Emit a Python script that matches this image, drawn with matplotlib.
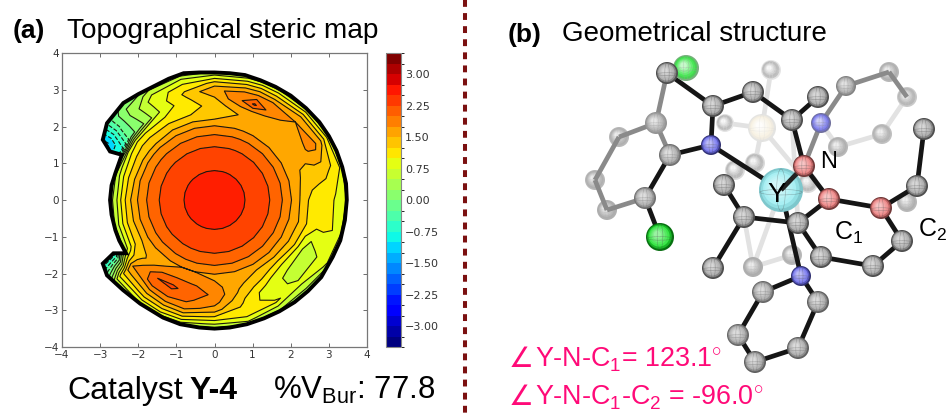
import matplotlib
matplotlib.use('Agg')
import matplotlib.pyplot as plt
import numpy as np
from matplotlib.patches import Circle, Ellipse, Polygon
from matplotlib.cm import ScalarMappable
from matplotlib.colors import BoundaryNorm

plt.rcParams['font.family'] = ['Liberation Sans', 'DejaVu Sans']
plt.rcParams['mathtext.fontset'] = 'custom'
plt.rcParams['mathtext.rm'] = 'Liberation Sans'
plt.rcParams['mathtext.it'] = 'Liberation Sans'
plt.rcParams['mathtext.bf'] = 'Liberation Sans:bold'

# steric map, read along rays: radius (Angstrom) and angle (degrees)
radii = [0, 0.8, 1.45, 1.78, 2.02, 2.2, 2.4, 2.6, 2.8, 3.0, 3.2, 3.4, 3.6]
angles = [0, 15, 30, 45, 60, 68, 75, 90, 105, 120, 135, 142, 150, 165, 180, 195, 210,
          220, 235, 245, 255, 270, 285, 300, 315, 330, 345]
inner = [2.7, 2.5, 2.25, 2.0, 1.75]  # same all the way round up to r=2.02
outer = [
    [1.55, 1.30, 1.15, 1.10, 1.10, 0.95, 1.00, 0.20],
    [1.60, 1.45, 1.40, 1.35, 1.30, 1.20, 1.00, 0.20],
    [1.70, 1.60, 1.60, 1.80, 1.85, 1.55, 1.00, 0.30],
    [1.65, 1.60, 1.55, 1.60, 1.75, 1.50, 0.95, 0.20],
    [1.60, 1.60, 1.70, 1.95, 1.90, 1.40, 0.90, 0.20],
    [1.60, 1.60, 1.75, 2.30, 1.90, 1.45, 0.90, 0.20],
    [1.55, 1.50, 1.70, 2.00, 1.85, 1.40, 0.85, 0.20],
    [1.50, 1.30, 1.35, 1.50, 1.70, 1.30, 0.75, 0.20],
    [1.50, 1.25, 1.15, 1.20, 1.30, 1.10, 0.75, 0.20],
    [1.50, 1.25, 1.00, 0.80, 0.85, 0.90, 0.60, 0.20],
    [1.45, 1.25, 0.95, 0.10, 0.15, 0.20, 0.20, 0.00],
    [1.45, 1.25, 0.95, -0.10, -0.20, -0.30, -0.30, -0.30],
    [1.45, 1.20, 0.85, -0.80, -1.00, -1.20, -1.20, -1.20],
    [1.45, 1.15, 0.70, 0.20, -1.50, -2.00, -2.00, -2.00],
    [1.50, 1.15, 0.65, 0.25, -1.50, -2.00, -2.00, -2.00],
    [1.50, 1.20, 0.75, 0.30, -1.50, -2.00, -2.00, -2.00],
    [1.50, 1.25, 0.85, 0.30, -0.70, -0.90, -1.00, -1.00],
    [1.60, 1.45, 1.60, 1.75, 1.45, 1.10, 0.60, 0.20],
    [1.75, 2.00, 2.25, 2.10, 1.70, 1.30, 0.80, 0.20],
    [1.80, 2.10, 2.30, 2.15, 1.85, 1.40, 0.90, 0.20],
    [1.80, 2.05, 2.15, 2.05, 1.90, 1.45, 0.90, 0.20],
    [1.75, 1.85, 1.95, 1.85, 1.60, 1.20, 0.70, 0.20],
    [1.65, 1.55, 1.45, 1.30, 1.20, 1.15, 0.80, 0.20],
    [1.50, 1.35, 1.10, 0.85, 0.85, 1.05, 0.60, 0.20],
    [1.50, 1.15, 0.80, 0.70, 0.70, 0.80, 0.50, 0.20],
    [1.55, 1.30, 0.85, 0.55, 0.70, 0.80, 0.80, 0.20],
    [1.60, 1.35, 1.15, 1.05, 1.05, 1.00, 0.90, 0.20],
]
outline_x = [0, 0.4, 0.8, 1.2, 1.6, 2.0, 2.4, 2.75, 3.0, 3.2, 3.35, 3.45, 3.47, 3.42, 3.3, 3.1, 2.8,
             2.45, 2.1, 1.7, 1.3, 0.85, 0.4, 0, -0.4, -0.9, -1.35, -1.95, -2.4, -2.82, -2.93, -2.65,
             -2.32, -2.5, -2.6, -2.7, -2.74, -2.7, -2.6, -2.43, -2.74, -2.93, -2.82, -2.39, -2.0,
             -1.6, -1.2, -0.81, -0.4]
outline_y = [3.47, 3.45, 3.4, 3.26, 3.08, 2.84, 2.5, 2.12, 1.74, 1.34, 0.9, 0.45, 0, -0.55, -1.1, -1.55,
             -2.1, -2.48, -2.78, -3.03, -3.22, -3.38, -3.47, -3.5, -3.47, -3.38, -3.2, -2.82, -2.45,
             -2.05, -1.73, -1.45, -1.45, -1.1, -0.82, -0.4, 0, 0.4, 0.73, 1.23, 1.32, 1.64, 2.09,
             2.64, 2.88, 3.09, 3.3, 3.45, 3.47]
levels = np.arange(-3.5, 3.51, 0.25)
cbar_ticks = [-3, -2.25, -1.5, -0.75, 0, 0.75, 1.5, 2.25, 3]
axis_ticks = [-4, -3, -2, -1, 0, 1, 2, 3, 4]

# molecule atoms, positions in picture pixels
atom_names = ['h1', 'm1', 'h2', 'h3', 'h4', 'h5', 'h6', 'h7', 'h8',
              'cl1', 'c1', 'c2', 'c3', 'c4', 'c5', 'c6', 'c7', 'n1', 'c8', 'c9', 'c10', 'c11',
              'n2', 'p1', 'p2', 'p3', 'p4', 'p5',
              'r1', 'r2', 'r3', 'y', 'e1', 'e2', 'i1', 'i2', 'i3', 'a1', 'a2', 'a3', 'a4', 'cl2',
              'n3', 'q1', 'q2', 'q3', 'q4', 'q5']
atom_x = [771, 762, 725, 755, 735, 808, 907, 753, 792,
          686, 667, 656, 619, 595, 607, 645, 670, 711, 713, 753, 792, 818,
          821, 846, 889, 907, 882, 838,
          804, 829, 881, 781, 924, 917, 724, 744, 713, 798, 821, 873, 902, 660,
          801, 818, 763, 738, 755, 798]
atom_y = [70, 128, 123, 163, 170, 183, 202, 267, 255,
          68, 73, 123, 137, 180, 210, 198, 155, 145, 106, 92, 120, 97,
          123, 86, 72, 97, 134, 147,
          166, 199, 208, 190, 129, 186, 185, 217, 268, 223, 257, 266, 241, 237,
          276, 302, 292, 335, 362, 348]
atom_r = [10, 14, 9, 10, 10, 10, 10, 10, 10,
          13, 11, 11, 10, 10, 10, 11, 11, 10, 11, 11, 11, 11,
          10, 10, 10, 10, 10, 10,
          11, 11, 11, 22, 11, 11, 11, 11, 11, 11, 11, 11, 11, 14,
          10, 11, 11, 11, 11, 11]
atom_kind = ['c', 'w', 'c', 'c', 'c', 'c', 'c', 'c', 'c',
             'g', 'c', 'c', 'c', 'c', 'c', 'c', 'c', 'n', 'c', 'c', 'c', 'c',
             'n', 'c', 'c', 'c', 'c', 'c',
             'o', 'o', 'o', 'y', 'c', 'c', 'c', 'c', 'c', 'c', 'c', 'c', 'c', 'g',
             'n', 'c', 'c', 'c', 'c', 'c']
atom_fade = [.85, .8, .85, .8, .8, .8, .6, .55, .6,
             .45, 0, .4, .6, .6, .55, .2, .2, 0, 0, 0, 0, 0,
             .3, .3, .6, .7, .65, .6,
             0, 0, 0, 0, 0, 0, 0, 0, 0, 0, 0, 0, 0, 0,
             0, .1, .15, .15, .1, .1]
pale_bonds = ['h1-m1', 'm1-h2', 'm1-h3', 'h3-h4', 'm1-h5', 'i2-h7', 'h7-h8', 'y-h7', 'p5-p4', 'p4-p3',
              'n2-p5', 'e2-h6', 'a1-c10']
grey_bonds = ['c1-c2', 'c2-c3', 'c3-c4', 'c4-c5', 'c5-c6', 'c2-c7', 'p3-p2', 'p2-p1', 'n2-p1', 'n2-r1']
dark_bonds = ['c6-c7', 'c6-cl2', 'c7-n1', 'n1-c8', 'n1-y', 'c8-c1', 'c8-c9', 'c9-c10', 'c10-c11', 'c10-r1',
              'r1-r2', 'r2-r3', 'r3-e2', 'e1-e2', 'r3-a4', 'a4-a3', 'a3-a2', 'a2-a1', 'a1-r2',
              'a1-i2', 'i2-i1', 'i2-i3', 'y-n3', 'n3-q1', 'n3-q2', 'q2-q3', 'q3-q4', 'q4-q5', 'q5-q1']
front_bonds = ['r1-y']
kind_rgb = {'c': (0.62, 0.62, 0.62), 'w': (0.96, 0.93, 0.85), 'n': (0.38, 0.38, 0.92),
            'o': (0.92, 0.45, 0.45), 'y': (0.58, 0.92, 0.94), 'g': (0.05, 0.88, 0.12)}


def blend(rgb, other, t):
    return tuple((1 - t) * a + t * b for a, b in zip(rgb, other))


def draw_atom(ax, x, y, r, base, fade, z, edge_dark=0.5):
    edge = blend(tuple(c * edge_dark for c in base), (1, 1, 1), fade)
    light = blend(blend(base, (1, 1, 1), 0.6), (1, 1, 1), fade)
    for t in np.linspace(1, 0.25, 7):
        col = blend(edge, blend(base, light, (1 - t) * 1.3), min(1, (1 - t) * 5))
        off = (1 - t) * r * 0.25
        ax.add_patch(Circle((x - off, y - off), r * t, fc=col, ec='none', zorder=z))
    line = blend((0.3, 0.3, 0.3), (1, 1, 1), fade)
    ax.add_patch(Ellipse((x, y + r * 0.1), 2 * r * 0.96, r * 0.25, fc='none', ec=line, lw=0.4, alpha=0.4, zorder=z))
    ax.add_patch(Ellipse((x, y), r * 0.4, 2 * r * 0.96, fc='none', ec=line, lw=0.4, alpha=0.4, zorder=z))


fig = plt.figure(figsize=(9.52, 4.17), dpi=100)
W, H = 952.0, 417.0

# panel a
ax = fig.add_axes([62 / W, 1 - 347 / H, 305 / W, 294 / H])
inner_rows = np.tile(np.array(inner), (len(angles), 1))
Z = np.hstack([inner_rows, np.array(outer)])
Z = np.vstack([Z, Z[0]])
th = np.deg2rad(np.array(angles + [360]))
R, T = np.meshgrid(radii, th)
X = R * np.cos(T)
Y = R * np.sin(T)
shape = Polygon(np.column_stack([outline_x, outline_y]), closed=True, fc='none', ec='black', lw=2.8, zorder=5)
ax.add_patch(shape)
cf = ax.contourf(X, Y, Z, levels=levels, cmap='jet', vmin=-3.5, vmax=3.5)
cl = ax.contour(X, Y, Z, levels=levels, colors='#1a1a10', linewidths=0.8)
cf.set_clip_path(shape)
cl.set_clip_path(shape)
ax.set_xlim(-4, 4)
ax.set_ylim(-4, 4)
ax.set_xticks(axis_ticks)
ax.set_yticks(axis_ticks)
ax.tick_params(direction='in', top=True, right=True, length=3, width=0.6, color='#555555',
               labelsize=7.5, labelcolor='#333333', pad=2)
for lab in ax.get_xticklabels() + ax.get_yticklabels():
    lab.set_family('DejaVu Sans')
for s in ax.spines.values():
    s.set_color('#777777')
    s.set_linewidth(0.9)

cax = fig.add_axes([386 / W, 1 - 347 / H, 15 / W, 294 / H])
sm = ScalarMappable(norm=BoundaryNorm(levels, 256), cmap='jet')
cb = fig.colorbar(sm, cax=cax, ticks=cbar_ticks, spacing='proportional', drawedges=False)
cb.ax.set_yticklabels(['%.2f' % t if t >= 0 else '\u2212%.2f' % -t for t in cbar_ticks], family='DejaVu Sans')
cb.ax.tick_params(length=0, labelsize=8, labelcolor='#333333', pad=3)
cb.outline.set_edgecolor('#888888')

# overlay in pixels for labels and the molecule
ov = fig.add_axes([0, 0, 1, 1], facecolor='none')
ov.set_xlim(0, W)
ov.set_ylim(H, 0)
ov.axis('off')

ov.text(13, 31, '(a)', fontsize=19, fontweight='bold', va='center')
ov.text(67, 31, 'Topographical steric map', fontsize=20.2, va='center')
ov.text(508, 35, '(b)', fontsize=19, fontweight='bold', va='center')
ov.text(562, 34, 'Geometrical structure', fontsize=20, va='center')
ov.text(67, 399, 'Catalyst', fontsize=23, va='baseline')
ov.text(189, 399, 'Y-4', fontsize=23, fontweight='bold', va='baseline')
ov.text(273, 399, r'%V$_{\mathrm{Bur}}$: 77.8', fontsize=22.4, va='baseline')

ov.plot([464.5, 464.5], [0, H], color='#7b1010', lw=2.9, linestyle=(0, (1.7, 1.55)), dash_capstyle='butt')

pink = '#ff0a78'
ov.text(509, 367, '\u2220', fontsize=20, color=pink, family='DejaVu Sans', va='baseline')
ov.text(535, 367, r'Y-N-C$_{1}$= 123.1$^{\circ}$', fontsize=19.4, color=pink, va='baseline')
ov.text(509, 405, '\u2220', fontsize=20, color=pink, family='DejaVu Sans', va='baseline')
ov.text(535, 405, r'Y-N-C$_{1}$-C$_{2}$ = -96.0$^{\circ}$', fontsize=19.4, color=pink, va='baseline')

# molecule: pale parts first so the dark frame sits on top
pos = {n: (x, y) for n, x, y in zip(atom_names, atom_x, atom_y)}
for group, shade, z in [(pale_bonds, '#e2e2e2', 2), (grey_bonds, '#8a8a8a', 6), (dark_bonds, '#151515', 8),
                        (front_bonds, '#222222', 9.5)]:
    for pair in group:
        a, b = pair.split('-')
        ov.plot([pos[a][0], pos[b][0]], [pos[a][1], pos[b][1]], color=shade, lw=3.4,
                solid_capstyle='butt', zorder=z)
for n, x, y, r, k, f in zip(atom_names, atom_x, atom_y, atom_r, atom_kind, atom_fade):
    z = 4 if f >= 0.5 else (9 if n == 'y' else 10)
    draw_atom(ov, x, y, r, kind_rgb[k], f, z, edge_dark=0.85 if n == 'y' else 0.5)

ov.text(777, 195, 'Y', fontsize=20, va='center', ha='center', color='black', zorder=12)
ov.text(829, 162, 'N', fontsize=17, va='center', ha='center', zorder=12)
ov.text(834, 240, r'C$_{1}$', fontsize=18, va='baseline', zorder=12)
ov.text(918, 237, r'C$_{2}$', fontsize=18, va='baseline', zorder=12)

fig.savefig('out.png', dpi=100)
